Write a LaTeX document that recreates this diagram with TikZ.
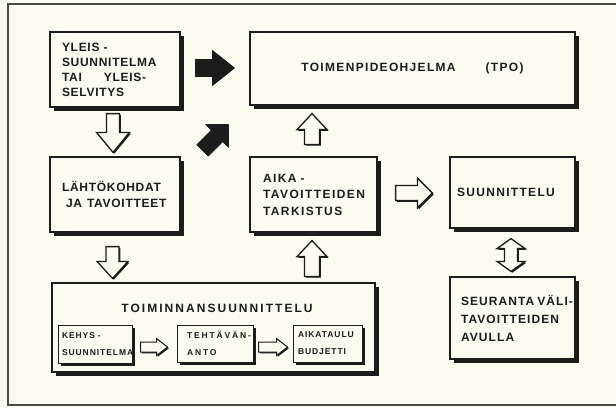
\documentclass[tikz,border=0pt]{standalone}
\usepackage{fontspec}
\newfontfamily\df{Liberation Sans Bold}[LetterSpace=11]
\usetikzlibrary{calc,shadows}
\definecolor{paper}{HTML}{FBFBEF}
\definecolor{ink}{HTML}{1C1C1C}
\hyphenpenalty=10000
\exhyphenpenalty=10000
\newcommand\ls[1]{\addfontfeature{LetterSpace=#1}}
\tikzset{
  boxbase/.style={draw=ink, line width=1.2pt, fill=paper, rectangle, inner sep=0pt,
    text=ink, align=left, font=\df\fontsize{12}{15}\selectfont},
  box/.style={boxbase, drop shadow={shadow xshift=4pt, shadow yshift=-4pt, opacity=1, fill=ink}},
  smallbox/.style={boxbase, line width=1pt,
    drop shadow={shadow xshift=3pt, shadow yshift=-3pt, opacity=1, fill=ink},
    font=\df\fontsize{8.5}{17}\selectfont},
  hollow/.style={draw=ink, line width=1.3pt, fill=paper, line join=miter,
    drop shadow={shadow xshift=1.3pt, shadow yshift=-1.3pt, opacity=1, fill=ink}},
  solidarrow/.style={draw=ink, line width=0.8pt, fill=ink, line join=round},
  frameline/.style={draw=ink!80, line width=1.1pt},
}
\newcommand\blockarrow[6][]{%
  \coordinate (ba-s) at #2;
  \coordinate (ba-e) at #3;
  \coordinate (ba-n) at ($(ba-e)!#6!(ba-s)$);
  \draw[#1] ($(ba-s)!#4!90:(ba-e)$) -- ($(ba-n)!#4!90:(ba-e)$) -- ($(ba-n)!#5!90:(ba-e)$)
    -- (ba-e) -- ($(ba-n)!#5!-90:(ba-e)$) -- ($(ba-n)!#4!-90:(ba-e)$)
    -- ($(ba-s)!#4!-90:(ba-e)$) -- cycle;
}
\newcommand\doublearrow[6][]{%
  \coordinate (da-s) at #2;
  \coordinate (da-e) at #3;
  \coordinate (da-n1) at ($(da-s)!#6!(da-e)$);
  \coordinate (da-n2) at ($(da-e)!#6!(da-s)$);
  \draw[#1] (da-s) -- ($(da-n1)!#5!90:(da-e)$) -- ($(da-n1)!#4!90:(da-e)$)
    -- ($(da-n2)!#4!-90:(da-s)$) -- ($(da-n2)!#5!-90:(da-s)$) -- (da-e)
    -- ($(da-n2)!#5!90:(da-s)$) -- ($(da-n2)!#4!90:(da-s)$)
    -- ($(da-n1)!#4!-90:(da-e)$) -- ($(da-n1)!#5!-90:(da-e)$) -- cycle;
}
\begin{document}
\begin{tikzpicture}[x=1pt,y=-1pt]
\path[use as bounding box, fill=paper] (0,0) rectangle (616,408);
\draw[frameline] (616,4) -- (8,4) -- (8,405) -- (616,405);

% main boxes
\node[box, minimum width=130pt, minimum height=75pt, text width=106pt,
  font=\df\fontsize{12}{15}\selectfont\ls{6}] (b1) at (115,69.5)
  {YLEIS -\\SUUNNITELMA\\\mbox{TAI\hspace{22pt}YLEIS-}\\SELVITYS};
\node[box, minimum width=325pt, minimum height=73pt, align=center] (tpo) at (412.5,68.5)
  {\mbox{TOIMENPIDEOHJELMA\hspace{30pt}(TPO)}};
\node[box, minimum width=130pt, minimum height=75pt, text width=106pt,
  font=\df\fontsize{12}{16.5}\selectfont\ls{6}] (b2) at (115,194.5)
  {LÄHTÖKOHDAT\\\mbox{\hspace{4pt}JA\hspace{5pt}TAVOITTEET}};
\node[box, minimum width=127pt, minimum height=75pt, text width=101pt,
  font=\df\fontsize{12}{16.5}\selectfont\ls{12}] (aika) at (313.5,194.5)
  {AIKA -\\TAVOITTEIDEN\\TARKISTUS};
\node[box, minimum width=125pt, minimum height=71pt, text width=111pt] (suun) at (512.5,192.5)
  {SUUNNITTELU};
\node[box, minimum width=125pt, minimum height=82pt, text width=103pt,
  font=\df\fontsize{12}{18}\selectfont\ls{9}] (seur) at (512.5,318)
  {\mbox{SEURANTA\hspace{3pt}VÄLI-}\\TAVOITTEIDEN\\AVULLA};
\node[box, minimum width=323pt, minimum height=89pt] (toim) at (213.5,327.5) {};
\node[text=ink, inner sep=0pt, font=\df\fontsize{12}{14}\selectfont\ls{17}]
  (toimtitle) at (217,308) {TOIMINNANSUUNNITTELU};

% inner boxes
\node[smallbox, minimum width=74pt, minimum height=38pt, text width=66pt] (kehys) at (95,344)
  {KEHYS -\\SUUNNITELMA};
\node[smallbox, minimum width=76pt, minimum height=37pt, text width=56pt,
  font=\df\fontsize{8.5}{17}\selectfont\ls{22}] (teht) at (215,343.5)
  {TEHTÄVÄN-\\ANTO};
\node[smallbox, minimum width=69pt, minimum height=37pt, text width=59pt] (aikat) at (327.5,343.5)
  {AIKATAULU\\BUDJETTI};

% solid arrows
\blockarrow[solidarrow]{($(b1.east)+(15,-1.5)$)}{($(tpo.west)+(-15,-0.5)$)}{8.5pt}{17.5pt}{22pt}
\blockarrow[solidarrow]{($(b2.north east)+(22,-6)$)}{($(tpo.south west)+(-21,19)$)}{8pt}{16pt}{16pt}

% hollow arrows
\blockarrow[hollow]{($(b1.south)+(-2,6)$)}{($(b2.north)+(-2,-4)$)}{6.5pt}{16.5pt}{20pt}
\blockarrow[hollow]{($(b2.south)+(-2.5,14)$)}{($(b2.south |- toim.north)+(-2.5,-4)$)}{6.5pt}{15.5pt}{17pt}
\blockarrow[hollow]{($(aika.north)+(-1.5,-12)$)}{($(aika.north |- tpo.south)+(-1.5,8)$)}{7.5pt}{15pt}{16pt}
\blockarrow[hollow]{($(aika.south |- toim.north)+(-1.5,-6)$)}{($(aika.south)+(-1.5,8)$)}{7.5pt}{15pt}{16pt}
\blockarrow[hollow]{($(aika.east)+(18,-1.5)$)}{($(suun.west)+(-17,0.5)$)}{7.5pt}{15pt}{15pt}
\doublearrow[hollow]{($(suun.south)+(-1.5,10)$)}{($(seur.north)+(-1.5,-5)$)}{6.5pt}{14pt}{10pt}
\blockarrow[hollow, line width=1pt]{($(kehys.east)+(8,3)$)}{($(teht.west)+(-9,3.5)$)}{5pt}{8.5pt}{11pt}
\blockarrow[hollow, line width=1pt]{($(teht.east)+(5,3.5)$)}{($(aikat.west)+(-5,3.5)$)}{5pt}{8.5pt}{11pt}
\end{tikzpicture}
\end{document}
